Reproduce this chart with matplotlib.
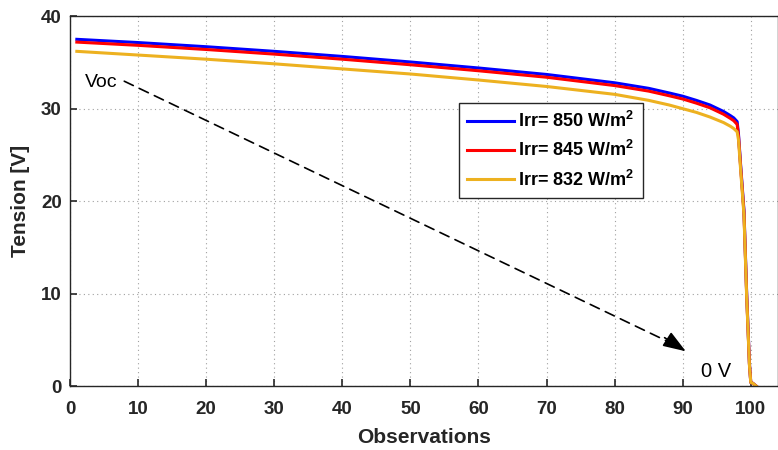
import numpy as np
import matplotlib
matplotlib.use("Agg")
from matplotlib import pyplot as plt

plt.rcParams['font.family'] = ['Liberation Sans', 'DejaVu Sans']
plt.rcParams['mathtext.fontset'] = 'custom'
plt.rcParams['mathtext.bf'] = 'Liberation Sans:bold'
plt.rcParams['mathtext.rm'] = 'Liberation Sans:bold'

obs = [1, 10, 20, 30, 40, 50, 60, 70, 80, 85, 88, 90, 92, 94, 96, 97, 97.5, 98,
       98.2, 98.5, 99, 99.4, 99.8, 100, 100.3, 100.8]

v_850 = [37.5, 37.15, 36.7, 36.2, 35.65, 35.05, 34.4, 33.7, 32.8, 32.2, 31.7, 31.35, 30.9,
         30.4, 29.7, 29.25, 29.0, 28.6, 27.2, 24.0, 19.0, 10.0, 2.5, 0.4, 0.3, 0.0]
v_845 = [37.2, 36.85, 36.4, 35.9, 35.35, 34.75, 34.1, 33.4, 32.5, 31.9, 31.4, 31.05, 30.6,
         30.1, 29.4, 28.95, 28.7, 28.3, 27.0, 23.8, 18.8, 9.8, 2.4, 0.4, 0.3, 0.0]
v_832 = [36.2, 35.8, 35.35, 34.85, 34.3, 33.75, 33.1, 32.4, 31.55, 30.9, 30.4, 30.0, 29.6,
         29.1, 28.5, 28.1, 27.85, 27.5, 26.6, 23.5, 18.5, 9.6, 2.3, 0.4, 0.3, 0.0]

labels = [r'Irr= 850 W/m$^{2}$', r'Irr= 845 W/m$^{2}$', r'Irr= 832 W/m$^{2}$']
colors = ['#0000FF', '#FF0000', '#EDB120']

fig = plt.figure(figsize=(7.78, 4.5), dpi=100)
ax = fig.add_axes([0.09, 0.142, 0.91, 0.822])

for v, lab, c in zip([v_850, v_845, v_832], labels, colors):
    ax.plot(obs, v, color=c, lw=2.2, label=lab)

ax.set_xlim(0, 104)
ax.set_ylim(0, 40)
ax.set_xticks(np.arange(0, 101, 10))
ax.set_yticks(np.arange(0, 41, 10))
ax.grid(True, ls=(0, (1, 3)), color='#a0a0a0', lw=0.8)
ax.tick_params(direction='in', length=5, width=1.2, colors='#262626', labelsize=13.5)
ax.tick_params(axis='x', pad=11)
ax.tick_params(axis='y', pad=6)
for lbl in ax.get_xticklabels() + ax.get_yticklabels():
    lbl.set_fontweight('bold')
for s in ax.spines.values():
    s.set_color('#262626')
    s.set_linewidth(1.0)

ax.set_xlabel('Observations', fontsize=15, fontweight='bold', color='#262626', labelpad=7)
ax.set_ylabel('Tension [V]', fontsize=15, fontweight='bold', color='#262626', labelpad=8)

# Voc -> 0 V annotation
ax.annotate('', xy=(89.0, 4.4), xytext=(7.6, 33.1),
            arrowprops=dict(arrowstyle='-', ls=(0, (6, 4)), color='k', lw=1.2))
ax.annotate('', xy=(90.8, 3.6), xytext=(87.0, 5.4),
            arrowprops=dict(arrowstyle='-|>,head_length=1.4,head_width=0.5', color='k', lw=1.2))
ax.text(2.2, 32.8, 'Voc', fontsize=14, va='center', ha='left')
ax.text(92.7, 1.6, '0 V', fontsize=14.5, va='center', ha='left')

leg = ax.legend(loc='upper left', bbox_to_anchor=(0.549, 0.765),
                prop={'size': 13, 'weight': 'bold'},
                fancybox=False, framealpha=1, edgecolor='#262626', handlelength=2.6,
                handletextpad=0.25, borderpad=0.45, labelspacing=0.5, borderaxespad=0)
leg.get_frame().set_linewidth(1.0)

fig.savefig('out.png', dpi=100)
